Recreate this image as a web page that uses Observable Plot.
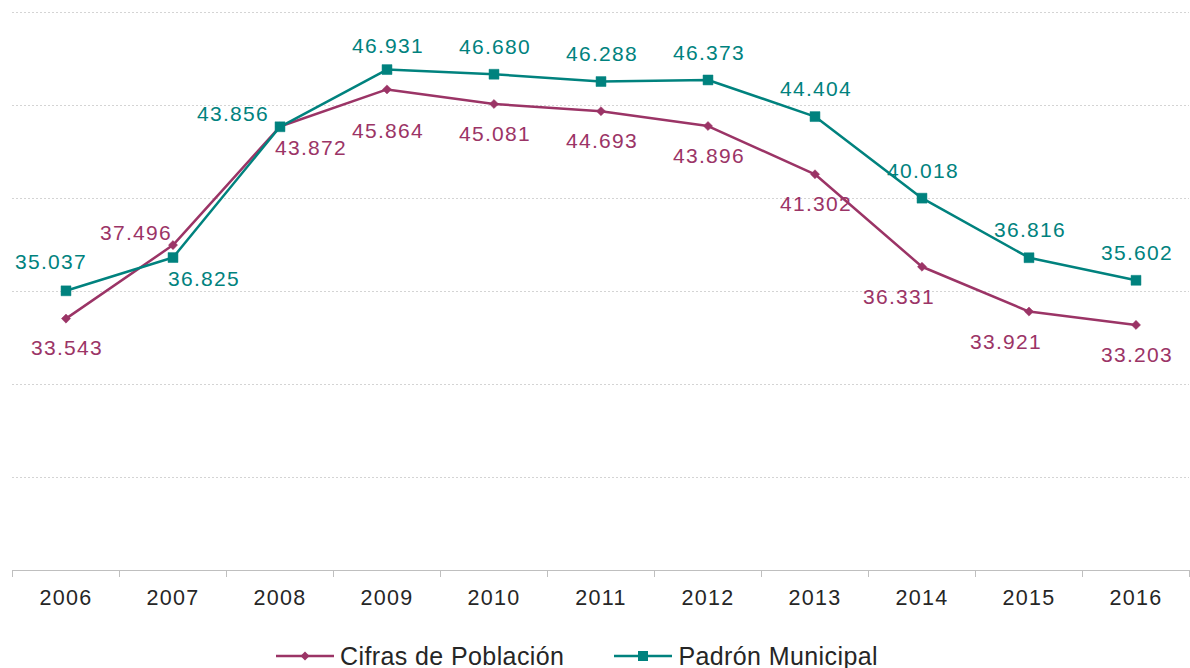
<!DOCTYPE html>
<html><head><meta charset="utf-8">
<script src="https://cdn.jsdelivr.net/npm/d3@7"></script>
<script src="https://cdn.jsdelivr.net/npm/@observablehq/plot@0.6"></script>
<style>
body{margin:0;background:#fff;font-family:"Liberation Sans",Arial,Helvetica,sans-serif;overflow:hidden}
#chart svg text{letter-spacing:1.3px}
#legend{display:flex;align-items:center;margin-left:276px;padding-top:12px;font-size:25px;line-height:28px;color:#262626;letter-spacing:0.4px;white-space:nowrap}
#legend .item{display:flex;align-items:center;margin-right:50px}
#legend svg{margin-right:6px}
</style>
</head><body>
<div id="chart"></div>
<div id="legend"></div>
<script>
const years = [2006, 2007, 2008, 2009, 2010, 2011, 2012, 2013, 2014, 2015, 2016];
const cifras = [33543, 37496, 43872, 45864, 45081, 44693, 43896, 41302, 36331, 33921, 33203];
const padron = [35037, 36825, 43856, 46931, 46680, 46288, 46373, 44404, 40018, 36816, 35602];
const seriesNames = ["Cifras de Población", "Padrón Municipal"];
const gridValues = [25000, 30000, 35000, 40000, 45000, 50000];
// label placement codes (style)
const cifrasPlacement = ["below","aboveLeft","belowRight","belowFar","below","below","below","below","belowLeft","belowLeft","below"];
const padronPlacement = ["aboveLeftSmall","belowRight","left","aboveNear","above","above","above","above","above","above","above"];

const placeOffsets = {
  below: [0, 30], belowFar: [0, 42], aboveLeft: [-38, -12], belowRight: [30, 22],
  belowLeft: [-24, 31], above: [0, -27], aboveNear: [0, -23], aboveLeftSmall: [-16, -29], left: [-48, -13]
};
const colors = {"Cifras de Población": "#9b3466", "Padrón Municipal": "#00827e"};
const symbols = {"Cifras de Población": "diamond2", "Padrón Municipal": "square"};
const radii = {"Cifras de Población": 4.1, "Padrón Municipal": 5.6};

const esLocale = d3.formatLocale({decimal: ",", thousands: ".", grouping: [3], currency: ["", " €"]});
const fmt = esLocale.format(",d");

const rows = [];
years.forEach((yr, i) => {
  rows.push({year: yr, value: cifras[i], series: seriesNames[0], place: cifrasPlacement[i]});
  rows.push({year: yr, value: padron[i], series: seriesNames[1], place: padronPlacement[i]});
});
const bounds = [years[0] - 0.5, ...years.map(y => y + 0.5)];

const marks = [
  Plot.ruleY(gridValues, {stroke: "#d4d4d4", strokeDasharray: "2,2", strokeWidth: 1}),
  Plot.ruleY([20000], {stroke: "#bfbfbf", strokeWidth: 1.2}),
  Plot.axisX(bounds, {tickSize: 7, tickFormat: () => "", stroke: "#bfbfbf", label: null}),
  Plot.axisX(years, {tickSize: 0, tickPadding: 19, tickFormat: d => String(d), fontSize: 21.5, fill: "#262626", label: null}),
];
seriesNames.forEach(s => {
  const d = rows.filter(r => r.series === s);
  marks.push(Plot.line(d, {x: "year", y: "value", stroke: colors[s], strokeWidth: 2.5}));
  marks.push(Plot.dot(d, {x: "year", y: "value", symbol: () => symbols[s], fill: colors[s], stroke: colors[s], strokeWidth: 0.5, r: radii[s]}));
});
Object.entries(placeOffsets).forEach(([p, [dx, dy]]) => {
  seriesNames.forEach(s => {
    const d = rows.filter(r => r.series === s && r.place === p);
    if (d.length) marks.push(Plot.text(d, {x: "year", y: "value", text: r => fmt(r.value), dx: dx + 1, dy, fill: colors[s], fontSize: 21, textAnchor: "middle"}));
  });
});

const chart = Plot.plot({
  width: 1190, height: 630,
  marginLeft: 12, marginRight: 1, marginTop: 12, marginBottom: 60,
  style: {fontFamily: '"Liberation Sans", Arial, sans-serif', background: "#fff", overflow: "visible"},
  x: {type: "linear", domain: [bounds[0], bounds[bounds.length - 1]], axis: null},
  y: {domain: [20000, 50000], axis: null},
  symbol: {type: "identity"},
  marks
});
document.getElementById("chart").appendChild(chart);

const legend = document.getElementById("legend");
seriesNames.forEach(s => {
  const item = document.createElement("div");
  item.className = "item";
  const c = colors[s];
  const marker = symbols[s] === "square"
    ? `<rect x="24" y="6" width="10" height="10" fill="${c}"/>`
    : `<path d="M29,6.5 L33.5,11 L29,15.5 L24.5,11 Z" fill="${c}"/>`;
  item.innerHTML = `<svg width="58" height="22"><line x1="0" y1="11" x2="58" y2="11" stroke="${c}" stroke-width="2.5"/>${marker}</svg><span>${s}</span>`;
  legend.appendChild(item);
});
</script>
</body></html>
